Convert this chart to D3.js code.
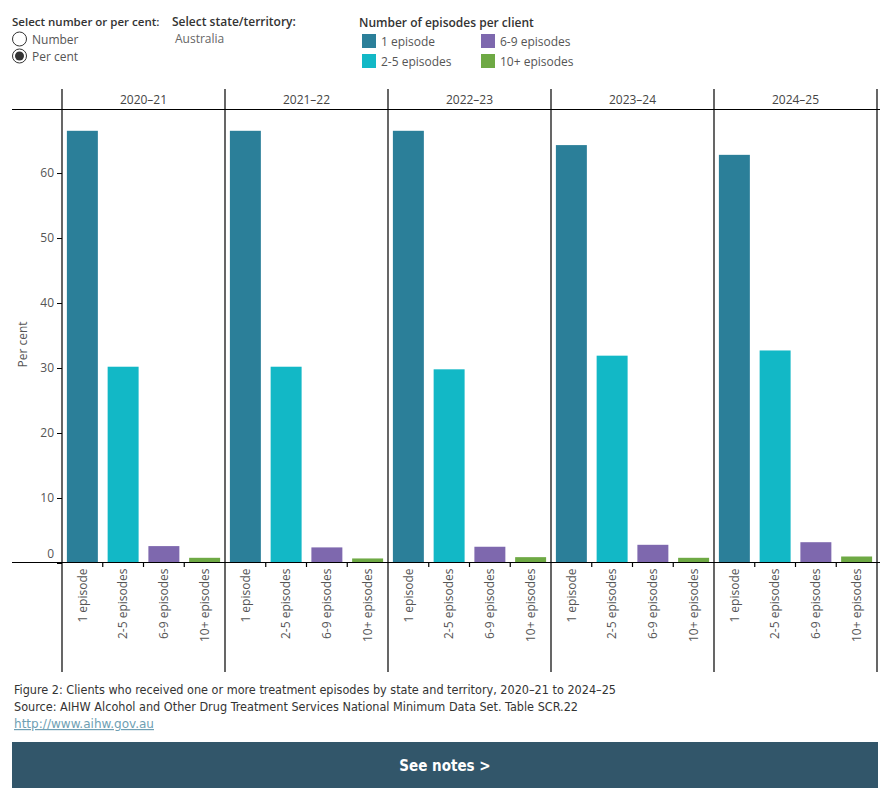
<!DOCTYPE html>
<html>
<head>
<meta charset="utf-8">
<script src="https://cdn.jsdelivr.net/npm/d3@7"></script>
<style>
  body { margin: 0; background: #fff; }
  svg { display: block; font-family: "Open Sans", "Noto Sans", sans-serif; }
</style>
</head>
<body>
<svg id="chart" width="890" height="800"></svg>
<script>
// data
const years = ['2020\u201321', '2021\u201322', '2022\u201323', '2023\u201324', '2024\u201325'];
const categories = ['1 episode', '2-5 episodes', '6-9 episodes', '10+ episodes'];
const oneEpisode = [66.5, 66.5, 66.5, 64.3, 62.8];
const twoToFive = [30.2, 30.2, 29.8, 31.9, 32.7];
const sixToNine = [2.6, 2.4, 2.5, 2.8, 3.2];
const tenPlus = [0.8, 0.7, 0.9, 0.8, 1.0];
const yTicks = [0, 10, 20, 30, 40, 50, 60];
const colors = ['#2b7f99', '#12b8c6', '#7e68ae', '#6ea944'];

const series = [oneEpisode, twoToFive, sixToNine, tenPlus];
const rows = years.map((y, i) => ({
    year: y,
    values: categories.map((c, j) => ({ cat: c, value: series[j][i] }))
}));

const svg = d3.select('#chart');

const plot = { left: 62, right: 877, top: 110, bottom: 563, headerTop: 89, panelBottom: 672 };

const panelX = d3.scaleBand().domain(years).range([plot.left, plot.right]);
const x = d3.scaleBand().domain(categories).range([0, panelX.bandwidth()])
    .paddingInner(0.24).paddingOuter(0.12);
const y = d3.scaleLinear().domain([0, 69.7]).range([plot.bottom, plot.top]);
const color = d3.scaleOrdinal().domain(categories).range(colors);

// controls at top
const ctl = svg.append('g').attr('font-size', 12);
ctl.append('text').attr('x', 12).attr('y', 26).attr('fill', '#333').attr('font-weight', 600)
    .attr('font-size', 11.5)
    .text('Select number or per cent:');
ctl.append('text').attr('x', 172).attr('y', 26).attr('fill', '#333').attr('font-weight', 600)
    .text('Select state/territory:');
ctl.append('text').attr('x', 175).attr('y', 43).attr('fill', '#666').text('Australia');

[['Number', 39, false], ['Per cent', 56, true]].forEach(([label, cy, on]) => {
    ctl.append('circle').attr('cx', 19.5).attr('cy', cy).attr('r', 7)
        .attr('fill', '#fff').attr('stroke', '#333').attr('stroke-width', 1);
    if (on) ctl.append('circle').attr('cx', 19.5).attr('cy', cy).attr('r', 4.5).attr('fill', '#333');
    ctl.append('text').attr('x', 32).attr('y', cy + 5).attr('fill', '#555').text(label);
});

// legend
const legend = svg.append('g').attr('font-size', 12);
legend.append('text').attr('x', 359).attr('y', 27).attr('fill', '#333').attr('font-weight', 600)
    .text('Number of episodes per client');
const legendItems = legend.selectAll('g.item')
    .data(categories)
    .join('g')
    .attr('class', 'item')
    .attr('transform', (d, i) => `translate(${362 + Math.floor(i / 2) * 119}, ${34 + (i % 2) * 20})`);
legendItems.append('rect').attr('width', 14).attr('height', 14).attr('fill', d => color(d));
legendItems.append('text').attr('x', 19).attr('y', 12).attr('fill', '#555').text(d => d);

// grid lines: header line, baseline, panel dividers
const lines = svg.append('g').attr('stroke', '#000').attr('stroke-width', 1.2);
lines.append('line').attr('x1', 12).attr('x2', 880).attr('y1', 109.5).attr('y2', 109.5);
lines.selectAll('line.div')
    .data(years.map(d => panelX(d)).concat([plot.right]))
    .join('line')
    .attr('class', 'div')
    .attr('x1', d => d).attr('x2', d => d)
    .attr('y1', plot.headerTop).attr('y2', plot.panelBottom);

// y axis
const yAxis = svg.append('g')
    .attr('transform', `translate(${plot.left},0)`)
    .call(d3.axisLeft(y).tickValues(yTicks).tickSize(5).tickPadding(3));
yAxis.select('.domain').remove();
yAxis.selectAll('.tick line').attr('stroke', '#000');
yAxis.selectAll('.tick text')
    .attr('font-size', 12).attr('fill', '#555')
    .attr('font-family', '"Open Sans", sans-serif')
    .attr('dy', d => d === 0 ? '-0.5em' : '0.32em');

svg.append('text')
    .attr('transform', `translate(27, ${(plot.top + plot.bottom) / 2 + 8}) rotate(-90)`)
    .attr('text-anchor', 'middle').attr('font-size', 12).attr('fill', '#555')
    .text('Per cent');

// panels
const panels = svg.selectAll('g.panel')
    .data(rows)
    .join('g')
    .attr('class', 'panel')
    .attr('transform', d => `translate(${panelX(d.year)},0)`);

panels.append('text')
    .attr('x', panelX.bandwidth() / 2).attr('y', 104)
    .attr('text-anchor', 'middle').attr('font-size', 12).attr('fill', '#444')
    .text(d => d.year);

panels.selectAll('rect')
    .data(d => d.values)
    .join('rect')
    .attr('x', d => x(d.cat))
    .attr('width', x.bandwidth())
    .attr('y', d => y(d.value))
    .attr('height', d => y(0) - y(d.value))
    .attr('fill', d => color(d.cat));

// category axis
panels.each(function () {
    const ax = d3.select(this).append('g')
        .attr('transform', `translate(0, ${plot.bottom - 0.5})`)
        .call(d3.axisBottom(x).tickSize(0).tickPadding(0));
    ax.select('.domain').remove();
    ax.selectAll('.tick text')
        .attr('transform', 'rotate(-90)')
        .attr('text-anchor', 'end')
        .attr('x', -6).attr('y', 0).attr('dy', '0.35em')
        .attr('font-size', 12).attr('fill', '#555')
        .attr('font-family', '"Open Sans", sans-serif');
    // separators between categories
    d3.select(this).append('g')
        .selectAll('line')
        .data(categories.slice(1))
        .join('line')
        .attr('x1', d => x(d) - x.step() * x.paddingInner() / 2)
        .attr('x2', d => x(d) - x.step() * x.paddingInner() / 2)
        .attr('y1', plot.bottom - 0.5).attr('y2', plot.bottom + 4)
        .attr('stroke', '#000').attr('stroke-width', 1.2);
});

svg.append('line').attr('x1', 12).attr('x2', 880)
    .attr('y1', plot.bottom - 0.5).attr('y2', plot.bottom - 0.5)
    .attr('stroke', '#000').attr('stroke-width', 1.2);

// footer
const foot = svg.append('g').attr('font-size', 12).attr('font-family', '"DejaVu Sans Condensed", "DejaVu Sans", sans-serif');
foot.append('text').attr('x', 14).attr('y', 694).attr('fill', '#333')
    .attr('textLength', 602).attr('lengthAdjust', 'spacingAndGlyphs')
    .text('Figure 2: Clients who received one or more treatment episodes by state and territory, 2020\u201321 to 2024\u201325');
foot.append('text').attr('x', 14).attr('y', 711).attr('fill', '#333')
    .attr('textLength', 564).attr('lengthAdjust', 'spacingAndGlyphs')
    .text('Source: AIHW Alcohol and Other Drug Treatment Services National Minimum Data Set. Table SCR.22');
foot.append('text').attr('x', 14).attr('y', 728).attr('fill', '#6f9fb3')
    .attr('text-decoration', 'underline')
    .attr('textLength', 140).attr('lengthAdjust', 'spacingAndGlyphs')
    .text('http://www.aihw.gov.au');

svg.append('rect').attr('x', 12).attr('y', 742).attr('width', 866).attr('height', 46).attr('fill', '#32566a');
svg.append('text').attr('x', 445).attr('y', 771).attr('text-anchor', 'middle')
    .attr('fill', '#fff').attr('font-size', 15).attr('font-weight', 'bold')
    .attr('font-family', '"DejaVu Sans Condensed", "DejaVu Sans", sans-serif')
    .text('See notes >');
</script>
</body>
</html>
